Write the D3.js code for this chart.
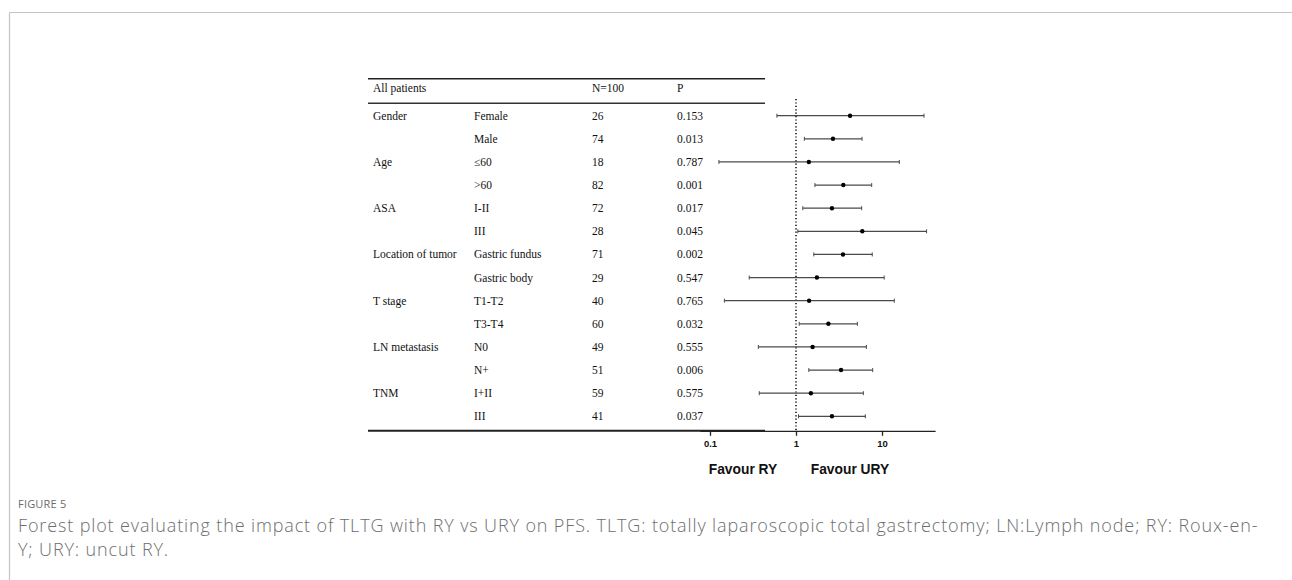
<!DOCTYPE html>
<html>
<head>
<meta charset="utf-8">
<script src="https://cdn.jsdelivr.net/npm/d3@7"></script>
<style>
  body { margin: 0; background: #fff; }
  svg { display: block; }
</style>
</head>
<body>
<svg id="chart" width="1292" height="580"></svg>
<script>
'use strict';

// rows of the forest plot
var groups    = ["Gender", "", "Age", "", "ASA", "", "Location of tumor", "", "T stage", "", "LN metastasis", "", "TNM", ""];
var subgroups = ["Female", "Male", "\u226460", ">60", "I-II", "III", "Gastric fundus", "Gastric body", "T1-T2", "T3-T4", "N0", "N+", "I+II", "III"];
var nValues   = [26, 74, 18, 82, 72, 28, 71, 29, 40, 60, 49, 51, 59, 41];
var pValues   = ["0.153", "0.013", "0.787", "0.001", "0.017", "0.045", "0.002", "0.547", "0.765", "0.032", "0.555", "0.006", "0.575", "0.037"];
var hr        = [4.25, 2.69, 1.41, 3.55, 2.62, 5.9, 3.52, 1.75, 1.42, 2.38, 1.56, 3.34, 1.49, 2.62];
var ciLow     = [0.6, 1.25, 0.127, 1.66, 1.2, 1.05, 1.61, 0.286, 0.147, 1.09, 0.365, 1.41, 0.374, 1.07];
var ciHigh    = [30.8, 5.86, 15.9, 7.59, 5.8, 33, 7.7, 10.6, 13.9, 5.17, 6.58, 7.79, 6.07, 6.4];
var tickValues = [0.1, 1, 10];
var header = ["All patients", "", "N=100", "P"];

var svg = d3.select("#chart");

// page frame
svg.append("line").attr("x1", 9.5).attr("x2", 1292).attr("y1", 12.5).attr("y2", 12.5)
   .attr("stroke", "#c4c4c4").attr("stroke-width", 1.2);
svg.append("line").attr("x1", 9.5).attr("x2", 9.5).attr("y1", 12.5).attr("y2", 580)
   .attr("stroke", "#c4c4c4").attr("stroke-width", 1.2);

var colX = [373, 474, 592, 677];
var tableLeft = 368, tableRight = 765;

var y = d3.scaleLinear().domain([0, subgroups.length - 1]).range([115.7, 416.3]);

var x = d3.scaleLog().domain([0.1, 10]).range([710, 882]);
var axisScale = x.copy().domain([0.0764, 41.5]).range([x(0.0764), x(41.5)]);

var serif = "'Liberation Serif', 'Times New Roman', serif";
var sans = "'Liberation Sans', Arial, sans-serif";

// table rules
svg.append("line").attr("x1", tableLeft).attr("x2", tableRight).attr("y1", 78.8).attr("y2", 78.8)
   .attr("stroke", "#222").attr("stroke-width", 1.6);
svg.append("line").attr("x1", tableLeft).attr("x2", tableRight).attr("y1", 103.3).attr("y2", 103.3)
   .attr("stroke", "#333").attr("stroke-width", 1.4);
svg.append("line").attr("x1", tableLeft).attr("x2", tableRight).attr("y1", 430.8).attr("y2", 430.8)
   .attr("stroke", "#222").attr("stroke-width", 2);

// header
svg.selectAll("text.head").data(header).enter().append("text")
   .attr("class", "head")
   .attr("x", function(d, i) { return colX[i]; })
   .attr("y", 92)
   .attr("font-family", serif).attr("font-size", 11.5).attr("fill", "#111")
   .text(function(d) { return d; });

// table body
var rows = svg.selectAll("g.row").data(subgroups).enter().append("g")
   .attr("class", "row")
   .attr("transform", function(d, i) { return "translate(0," + (y(i) + 4) + ")"; });

var cols = [groups, subgroups, nValues, pValues];
cols.forEach(function(col, c) {
    rows.append("text")
        .attr("x", colX[c])
        .attr("font-family", serif).attr("font-size", 11.5).attr("fill", "#111")
        .text(function(d, i) { return col[i]; });
});

// reference line at 1
svg.append("line")
   .attr("x1", x(1)).attr("x2", x(1)).attr("y1", 99).attr("y2", 430)
   .attr("stroke", "#000").attr("stroke-width", 1.5)
   .attr("stroke-dasharray", "1.2,2.2");

// confidence intervals
var ci = svg.selectAll("g.ci").data(hr).enter().append("g")
   .attr("class", "ci")
   .attr("transform", function(d, i) { return "translate(0," + y(i) + ")"; });

ci.append("line")
  .attr("x1", function(d, i) { return x(ciLow[i]); })
  .attr("x2", function(d, i) { return x(ciHigh[i]); })
  .attr("stroke", "#4a4a4a").attr("stroke-width", 1.2);
ci.append("line")
  .attr("x1", function(d, i) { return x(ciLow[i]); })
  .attr("x2", function(d, i) { return x(ciLow[i]); })
  .attr("y1", -2).attr("y2", 2)
  .attr("stroke", "#4a4a4a").attr("stroke-width", 1);
ci.append("line")
  .attr("x1", function(d, i) { return x(ciHigh[i]); })
  .attr("x2", function(d, i) { return x(ciHigh[i]); })
  .attr("y1", -2).attr("y2", 2)
  .attr("stroke", "#4a4a4a").attr("stroke-width", 1);
ci.append("circle")
  .attr("cx", function(d) { return x(d); })
  .attr("r", 2.2)
  .attr("fill", "#000");

// x axis
var axis = d3.axisBottom(axisScale)
   .tickValues(tickValues)
   .tickFormat(function(d) { return String(d); })
   .tickSize(5)
   .tickSizeOuter(0)
   .tickPadding(4);

var gAxis = svg.append("g")
   .attr("transform", "translate(0,430.8)")
   .call(axis);
gAxis.select(".domain").attr("stroke", "#222").attr("stroke-width", 1.3);
gAxis.selectAll(".tick line").attr("stroke", "#222").attr("stroke-width", 1.3);
gAxis.selectAll(".tick text")
   .attr("font-family", sans)
   .attr("font-size", 9.5).attr("font-weight", "bold").attr("fill", "#111");

// favour labels
svg.append("text").attr("x", 743).attr("y", 474).attr("text-anchor", "middle")
   .attr("font-family", sans)
   .attr("font-size", 13.8).attr("font-weight", "bold").attr("fill", "#111")
   .text("Favour RY");
svg.append("text").attr("x", 850).attr("y", 474).attr("text-anchor", "middle")
   .attr("font-family", sans)
   .attr("font-size", 13.8).attr("font-weight", "bold").attr("fill", "#111")
   .text("Favour URY");

// caption
var capFont = "'Open Sans', 'Noto Sans', sans-serif";
svg.append("text").attr("x", 18).attr("y", 508)
   .attr("font-family", capFont).attr("font-size", 11).attr("fill", "#6b6b6b")
   .attr("letter-spacing", 0.2)
   .text("FIGURE 5");
var capLines = [
    "Forest plot evaluating the impact of TLTG with RY vs URY on PFS. TLTG: totally laparoscopic total gastrectomy; LN:Lymph node; RY: Roux-en-",
    "Y; URY: uncut RY."
];
svg.selectAll("text.cap").data(capLines).enter().append("text")
   .attr("class", "cap")
   .attr("x", 18)
   .attr("y", function(d, i) { return 532 + i * 24; })
   .attr("font-family", capFont).attr("font-size", 18).attr("fill", "#6e6e6e")
   .attr("font-weight", 300)
   .attr("letter-spacing", 0.87)
   .text(function(d) { return d; });
</script>
</body>
</html>
